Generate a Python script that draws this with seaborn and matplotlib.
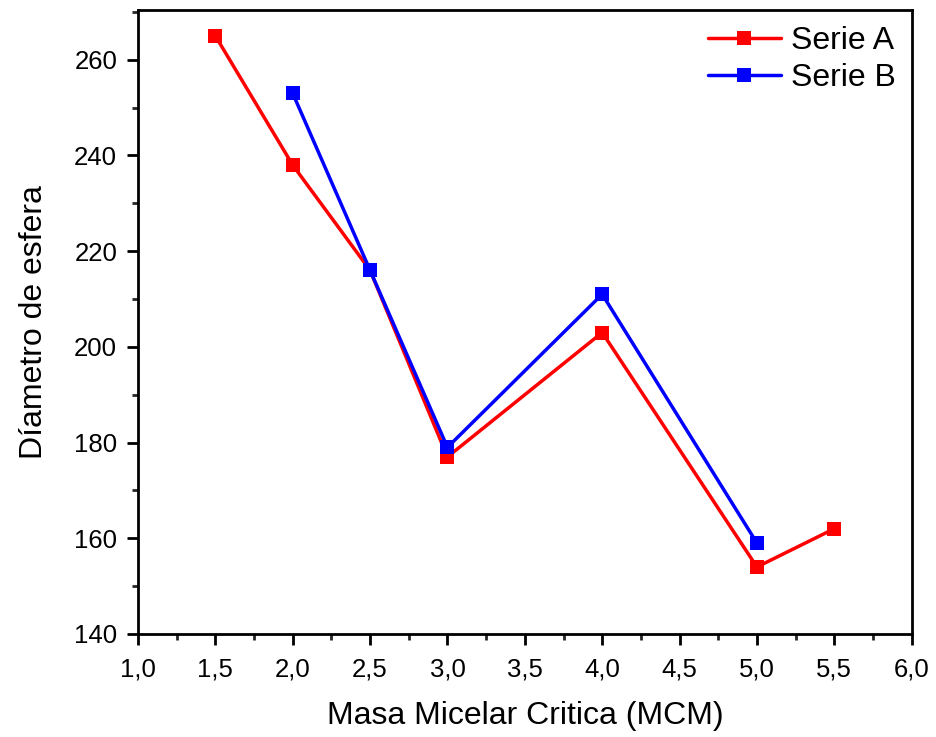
import matplotlib
matplotlib.use("Agg")
import matplotlib.pyplot as plt
from matplotlib.ticker import MultipleLocator, FuncFormatter
import seaborn as sns
import pandas as pd

# Serie A
mcm_a = [1.5, 2.0, 2.5, 3.0, 4.0, 5.0, 5.5]
diam_a = [265, 238, 216, 177, 203, 154, 162]
# Serie B
mcm_b = [2.0, 2.5, 3.0, 4.0, 5.0]
diam_b = [253, 216, 179, 211, 159]

series_names = ["Serie A", "Serie B"]
colors = {"Serie A": "#ff0000", "Serie B": "#0000ff"}

df = pd.concat([
    pd.DataFrame({"x": mcm_a, "y": diam_a, "serie": series_names[0]}),
    pd.DataFrame({"x": mcm_b, "y": diam_b, "serie": series_names[1]}),
])

sns.set_theme(style="ticks")
plt.rcParams["font.family"] = ["Liberation Sans", "DejaVu Sans"]
plt.rcParams["text.color"] = "black"
plt.rcParams["axes.labelcolor"] = "black"

fig = plt.figure(figsize=(9.36, 7.37), dpi=100)
ax = fig.add_axes([0.1474, 0.1398, 0.8266, 0.8466])

sns.lineplot(data=df, x="x", y="y", hue="serie", palette=colors,
             marker="s", markersize=10.5, markeredgewidth=0, linewidth=2.5,
             sort=False, estimator=None, ax=ax)

ax.set_xlim(1.0, 6.0)
ax.set_ylim(140, 270.4)
ax.xaxis.set_major_locator(MultipleLocator(0.5))
ax.xaxis.set_minor_locator(MultipleLocator(0.25))
ax.yaxis.set_major_locator(MultipleLocator(20))
ax.yaxis.set_minor_locator(MultipleLocator(10))
ax.xaxis.set_major_formatter(FuncFormatter(lambda v, p: f"{v:.1f}".replace(".", ",")))
ax.yaxis.set_major_formatter(FuncFormatter(lambda v, p: f"{v:.0f}"))

for s in ax.spines.values():
    s.set_linewidth(2)
    s.set_color("black")
ax.tick_params(which="major", direction="out", length=8, width=2, labelsize=18.5,
               colors="black")
ax.tick_params(which="minor", direction="out", length=4, width=2)
ax.tick_params(axis="x", which="major", pad=9)
ax.tick_params(axis="y", which="major", pad=7)

ax.set_xlabel("Masa Micelar Critica (MCM)", fontsize=23, labelpad=14)
ax.set_ylabel("Díametro de esfera", fontsize=23, labelpad=18)

leg = ax.legend(loc="upper right", frameon=False, fontsize=23, handlelength=2.3,
                handletextpad=0.3, borderaxespad=0.3, labelspacing=0.22,
                borderpad=0.2)

fig.savefig("out.png", dpi=100, facecolor="white")
